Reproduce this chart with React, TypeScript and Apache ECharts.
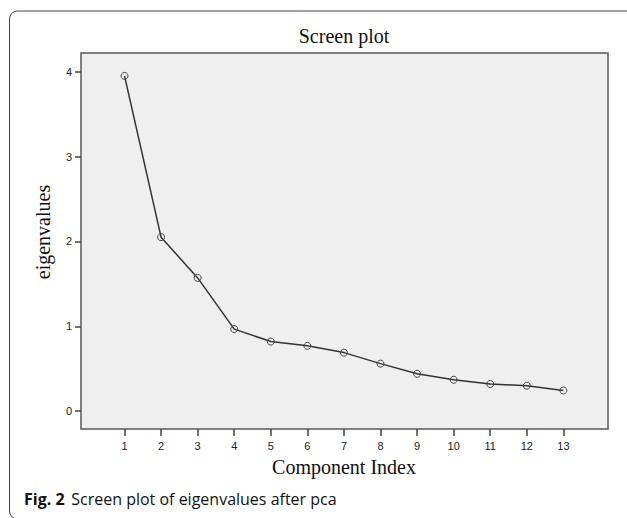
import React, { useEffect, useRef } from "react";
import * as echarts from "echarts";

const componentIndex = [1, 2, 3, 4, 5, 6, 7, 8, 9, 10, 11, 12, 13];
const eigenvalues = [3.95, 2.05, 1.57, 0.967, 0.82, 0.77, 0.69, 0.56, 0.44, 0.37, 0.32, 0.3, 0.244];
const yTickValues = [0, 1, 2, 3, 4];
const xTickValues = componentIndex;

const titleText = "Screen plot";
const xAxisTitle = "Component Index";
const yAxisTitle = "eigenvalues";
const captionBold = "Fig. 2";
const captionText = "Screen plot of eigenvalues after pca";

export default function App() {
  const ref = useRef<HTMLDivElement>(null);
  useEffect(() => {
    if (!ref.current) return;
    const chart = echarts.init(ref.current, undefined, { renderer: "svg" });
    const seriesData = componentIndex.map((c, i) => [c, eigenvalues[i]]);
    const serif = "'Liberation Serif', 'DejaVu Serif', serif";
    const sans = "'Liberation Sans', Arial, sans-serif";
    chart.setOption({
      animation: false,
      backgroundColor: "#ffffff",
      grid: {
        left: 81,
        right: 19,
        top: 53,
        bottom: 89,
        show: true,
        backgroundColor: "#efefef",
        borderColor: "#5a5a5a",
        borderWidth: 1.5,
      },
      xAxis: {
        type: "value",
        min: -0.19,
        max: 14.22,
        axisLine: { show: false, onZero: false },
        splitLine: { show: false },
        axisTick: {
          show: true,
          customValues: xTickValues,
          length: 7,
          lineStyle: { color: "#444", width: 1.5 },
        },
        axisLabel: {
          customValues: xTickValues,
          margin: 11,
          fontSize: 11,
          fontFamily: sans,
          color: "#222",
        },
      },
      yAxis: {
        type: "value",
        min: -0.21,
        max: 4.22,
        axisLine: { show: false, onZero: false },
        splitLine: { show: false },
        axisTick: {
          show: true,
          customValues: yTickValues,
          length: 6,
          lineStyle: { color: "#444", width: 1.5 },
        },
        axisLabel: {
          customValues: yTickValues,
          margin: 9,
          fontSize: 11,
          fontFamily: sans,
          color: "#222",
        },
      },
      series: [
        {
          type: "line",
          data: seriesData,
          symbol: "circle",
          symbolSize: 7,
          lineStyle: { color: "#333", width: 1.5 },
          itemStyle: { color: "rgba(0,0,0,0)", borderColor: "#444", borderWidth: 1 },
        },
      ],
      graphic: [
        {
          type: "rect",
          shape: { x: 9.5, y: 11, width: 640, height: 508, r: 8 },
          style: { fill: "none", stroke: "#444", lineWidth: 1 },
          silent: true,
        },
        {
          type: "text",
          x: 344,
          y: 35.5,
          style: {
            text: titleText,
            font: `20px ${serif}`,
            fill: "#111",
            textAlign: "center",
            textVerticalAlign: "middle",
          },
        },
        {
          type: "text",
          x: 344,
          y: 466.5,
          style: {
            text: xAxisTitle,
            font: `20px ${serif}`,
            fill: "#111",
            textAlign: "center",
            textVerticalAlign: "middle",
          },
        },
        {
          type: "text",
          x: 43,
          y: 232,
          rotation: Math.PI / 2,
          style: {
            text: yAxisTitle,
            font: `20px ${serif}`,
            fill: "#111",
            textAlign: "center",
            textVerticalAlign: "middle",
          },
        },
        {
          type: "text",
          x: 24,
          y: 498.5,
          style: {
            text: `{b|${captionBold}}  {r|${captionText}}`,
            textVerticalAlign: "middle",
            rich: {
              b: { fontFamily: "'Open Sans', sans-serif", fontSize: 16, fontWeight: "bold", fill: "#111" },
              r: { fontFamily: "'Open Sans', sans-serif", fontSize: 16, fill: "#111" },
            },
          },
        },
      ],
    });
    return () => chart.dispose();
  }, []);
  return (
    <div
      ref={ref}
      style={{ position: "fixed", left: 0, top: 0, width: 627, height: 518 }}
    />
  );
}
